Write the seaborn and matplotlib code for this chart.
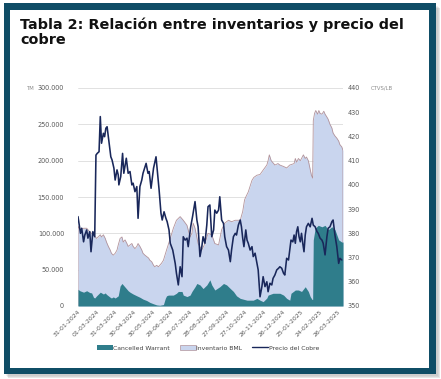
import numpy as np
import pandas as pd
import matplotlib
matplotlib.use("Agg")
import matplotlib.pyplot as plt
import seaborn as sns
from matplotlib.patches import Rectangle, Patch
from matplotlib.lines import Line2D

# ---------------- data ----------------
start_date = "2024-01-31"
tick_labels = ["31-01-2024", "01-03-2024", "31-03-2024", "30-04-2024", "30-05-2024",
               "29-06-2024", "29-07-2024", "28-08-2024", "27-09-2024", "27-10-2024",
               "26-11-2024", "26-12-2024", "25-01-2025", "24-02-2025", "26-03-2025"]
end_day = 428

# Precio del Cobre (ctvs/lb) - days since start_date
price_days = [0, 2, 4, 6, 9, 11, 14, 16, 19, 21, 24, 27, 29, 31, 34, 36, 38, 41, 43, 45,
              47, 50, 53, 55, 58, 60, 63, 65, 66, 69, 72, 74, 78, 81, 84, 87, 89, 92, 95, 97,
              100, 103, 105, 110, 113, 115, 118, 122, 126, 128, 131, 134, 136, 139, 142, 144, 147, 149,
              153, 157, 159, 162, 165, 168, 170, 173, 176, 178, 182, 185, 189, 192, 194, 197,
              200, 202, 205, 208, 210, 213, 216, 219, 221, 224, 227, 229, 232, 235, 237, 240,
              243, 246, 248, 251, 254, 256, 259, 262, 264, 266, 268, 271, 273, 275, 278, 281,
              283, 286, 289, 291, 294, 297, 299, 302, 305, 307, 310, 313, 315, 318, 321, 324,
              326, 329, 332, 334, 337, 340, 342, 344, 347, 349, 351, 353, 355, 357, 359, 361,
              363, 365, 367, 369, 372, 375, 378, 380, 383, 386, 388, 391, 394, 396, 399, 402,
              404, 407, 410, 412, 415, 418, 421, 423, 426]
price_values = [386.9, 383.4, 380.0, 382.1, 376.5, 379.3, 381.4, 378.0, 380.7, 372.4, 380.7, 378.6,
                412.3, 413.0, 413.7, 428.2, 417.2, 421.3, 419.9, 423.4, 424.0, 417.8, 411.6, 410.3,
                406.9, 402.0, 406.2, 404.1, 400.0, 403.4, 413.0, 404.8, 411.0, 404.8, 405.5, 400.0,
                400.7, 397.2, 399.3, 386.2, 399.3, 402.0, 404.8, 408.9, 404.8, 405.5, 398.6, 406.9,
                411.6, 406.2, 397.9, 388.3, 385.5, 388.9, 386.2, 384.8, 381.4, 375.9,
                373.1, 367.6, 363.5, 358.7, 366.2, 362.1, 378.6, 377.2, 378.0, 374.5, 382.7, 386.9,
                393.1, 385.5, 382.7, 370.4, 374.5, 378.6, 375.9, 383.4, 391.0, 391.7, 378.6, 381.4,
                389.6, 388.3, 389.6, 395.1, 385.5, 384.1, 378.6, 374.5, 373.1, 368.3, 373.1, 378.6,
                380.0, 379.3, 383.4, 385.5, 382.7, 378.0, 374.5, 381.4, 377.2, 375.9, 373.1, 374.5,
                370.4, 371.8, 367.6, 364.9, 353.8, 358.0, 362.1, 358.0, 360.0, 355.9, 359.4, 358.7,
                361.4, 362.8, 364.9, 365.6, 366.2, 365.6, 363.5, 362.8, 369.7, 369.0, 373.1, 377.2,
                376.5, 379.3, 375.9, 380.7, 382.7, 378.6, 376.5, 380.0, 375.9, 372.4, 379.3, 382.7,
                384.1, 382.7, 386.2, 383.4, 382.7, 380.7, 380.0, 378.0, 377.2, 375.9, 371.1, 378.6,
                382.1, 382.7, 384.8, 385.5, 379.3, 374.5, 367.6, 369.7, 369.0]

# Inventario BML (TM)
inv_days = [0, 3, 9, 14, 19, 25, 30, 36, 38, 41, 44, 46, 49, 52, 54, 57, 60, 63, 65, 68,
            71, 73, 76, 79, 81, 84, 87, 89, 92, 95, 97, 100, 103, 105, 108, 111, 114, 116, 119, 122,
            124, 127, 130, 132, 135, 138, 143, 149, 154, 159, 165, 170, 176, 181, 184, 186, 189, 194,
            200, 205, 210, 216, 221, 227, 232, 237, 243, 248, 254, 259, 262, 266, 269, 271, 275, 278,
            281, 284, 289, 294, 299, 305, 307, 309, 312, 315, 318, 323, 326, 332, 337, 342, 349, 351,
            353, 356, 359, 361, 364, 367, 369, 372, 374, 377, 379, 380, 382, 384, 387, 389, 391, 394,
            397, 399, 402, 404, 407, 410, 412, 415, 418, 421, 423, 426, 428]
inv_values = [110, 105, 107, 107, 102, 98, 93, 98, 95, 98, 93, 88, 82, 77, 72.5, 70, 72.5, 77, 84, 93,
              95, 88, 91, 86, 82, 84, 86, 82, 79, 82, 86, 82, 77, 72.5, 70, 68, 66, 63, 61, 56,
              54, 56, 54, 56, 59, 63, 77, 93, 107, 118, 123, 118, 111, 95, 100, 114, 107, 86,
              77, 86, 100, 98, 86, 84, 105, 114, 118, 116, 118, 118, 118, 130, 146, 150, 157, 165,
              173, 177, 180, 181, 187, 194, 200, 208, 200, 197, 194, 196, 194, 192, 190, 194, 196, 203,
              198, 203, 200, 203, 208, 203, 205, 200, 192, 180, 176, 255, 265, 269, 264, 269, 265, 264,
              268, 264, 260, 257, 250, 245, 238, 234, 231, 227, 222, 219, 214]
inv_values = [v * 1000 for v in inv_values]

# Cancelled Warrant (TM)
cw_days = [0, 3, 9, 14, 19, 22, 25, 27, 30, 33, 36, 38, 41, 44, 46, 49, 52, 54, 57, 60,
           65, 68, 71, 73, 76, 79, 81, 84, 89, 95, 100, 105, 111, 116, 122, 127, 132, 138, 141, 143,
           146, 154, 159, 162, 168, 170, 176, 181, 184, 189, 192, 197, 202, 208, 213, 216, 221, 229,
           235, 240, 246, 251, 256, 262, 273, 283, 289, 294, 299, 305, 307, 315, 326, 332, 337, 342,
           344, 351, 356, 361, 367, 372, 375, 378, 379, 380, 383, 388, 394, 399, 404, 410, 415, 421,
           426, 428]
cw_values = [23, 21, 19, 21, 18.5, 18, 12, 11, 14, 16.5, 19, 18, 16.5, 18, 16, 14, 12, 11, 12.5, 11,
             14, 27.5, 31, 29, 26, 23, 21, 19, 16.5, 14, 12, 9.5, 7.5, 5, 3, 1.5, 1, 2, 10.5, 14,
             15, 15, 17.5, 20, 20, 15, 13, 15, 20, 26.5, 31, 29, 24, 29, 36, 29, 22, 26.5,
             31, 29, 24, 20, 14, 10.5, 8, 8, 10.5, 8, 6, 11, 15, 17.5, 17.5, 15, 10.5, 8,
             17.5, 22, 22, 20, 26.5, 20, 13, 9, 9, 91, 107, 111, 109, 111, 105, 109, 105, 91,
             88, 88]
cw_values = [v * 1000 for v in cw_values]

# ---------------- frames ----------------
t0 = pd.Timestamp(start_date)
price_df = pd.DataFrame({"fecha": t0 + pd.to_timedelta(price_days, unit="D"), "precio": price_values})
inv_df = pd.DataFrame({"fecha": t0 + pd.to_timedelta(inv_days, unit="D"), "tm": inv_values})
cw_df = pd.DataFrame({"fecha": t0 + pd.to_timedelta(cw_days, unit="D"), "tm": cw_values})
tick_dates = [t0 + pd.Timedelta(days=30 * i) for i in range(len(tick_labels))]

# ---------------- style ----------------
sns.set_theme(style="white")
plt.rcParams["font.family"] = ["DejaVu Sans"]

W, H = 441, 379
fig = plt.figure(figsize=(W / 100, H / 100), dpi=100)
fig.patch.set_facecolor("white")

def px_rect(x0, y0, x1, y1, **kw):
    return Rectangle((x0 / W, 1 - y1 / H), (x1 - x0) / W, (y1 - y0) / H,
                     transform=fig.transFigure, **kw)

# shadow
for i, a in enumerate([0.10, 0.14, 0.18]):
    fig.patches.append(px_rect(6 + i, 6 + i, 440 - (2 - i), 378 - (2 - i), facecolor="#7a7a7a",
                               edgecolor="none", alpha=a, zorder=0))
# teal frame + white panel
fig.patches.append(px_rect(4, 3, 436, 374, facecolor="#0f4d66", edgecolor="none", zorder=1))
fig.patches.append(px_rect(10, 10, 429, 368, facecolor="white", edgecolor="none", zorder=2))

fig.text(20 / W, 1 - 17 / H, "Tabla 2: Relación entre inventarios y precio del\ncobre",
         ha="left", va="top", fontsize=10.4, fontweight="bold", color="#111111",
         linespacing=1.1, zorder=5)

ax = fig.add_axes([78 / W, 1 - 306 / H, (343 - 78) / W, (306 - 88) / H])
ax.set_zorder(3)
ax.patch.set_alpha(0)

inv_col = "#c9d5ee"
inv_edge = "#b2939b"
cw_col = "#2f7d8b"
price_col = "#19275a"

ax.fill_between(inv_df["fecha"], 0, inv_df["tm"], color=inv_col, linewidth=0, zorder=2)
edge_x = [inv_df["fecha"].iloc[0]] + list(inv_df["fecha"]) + [inv_df["fecha"].iloc[-1]]
edge_y = [0] + list(inv_df["tm"]) + [0]
ax.plot(edge_x, edge_y, color=inv_edge, lw=0.6, zorder=3)
ax.fill_between(cw_df["fecha"], 0, cw_df["tm"], color=cw_col, linewidth=0, zorder=4)

ax.set_ylim(0, 300000)
ax.set_yticks(range(0, 300001, 50000))
ax.set_yticklabels([f"{v:,}".replace(",", ".") for v in range(0, 300001, 50000)])
ax.set_xlim(t0, t0 + pd.Timedelta(days=end_day))
ax.set_xticks(tick_dates)
ax.set_xticklabels(tick_labels, rotation=45, ha="right", rotation_mode="anchor")
ax.grid(axis="y", color="#dcdcdc", lw=0.6, zorder=0)
ax.set_axisbelow(True)
ax.tick_params(axis="y", labelsize=4.7, colors="#595959", length=0, pad=10)
ax.tick_params(axis="x", labelsize=4.4, colors="#595959", length=0, pad=2)
for s in ax.spines.values():
    s.set_visible(False)
ax.set_xlabel("")
ax.set_ylabel("")

ax2 = ax.twinx()
sns.lineplot(data=price_df, x="fecha", y="precio", ax=ax2, color=price_col, lw=1.15,
             estimator=None, legend=False, zorder=5)
ax2.set_ylim(350, 440)
ax2.set_yticks(range(350, 441, 10))
ax2.tick_params(axis="y", labelsize=4.7, colors="#595959", length=0, pad=3)
ax2.set_xlim(t0, t0 + pd.Timedelta(days=end_day))
for s in ax2.spines.values():
    s.set_visible(False)
ax2.set_xlabel("")
ax2.set_ylabel("")

fig.text(27 / W, 1 - 88 / H, "TM", fontsize=3.8, color="#8c8c8c", va="center", ha="left", zorder=5)
fig.text(371 / W, 1 - 88 / H, "CTVS/LB", fontsize=3.8, color="#8c8c8c", va="center", ha="left", zorder=5)

handles = [Patch(facecolor=cw_col, edgecolor="none", label="Cancelled Warrant"),
           Patch(facecolor=inv_col, edgecolor=inv_edge, lw=0.5, label="Inventario BML"),
           Line2D([0], [0], color=price_col, lw=1.0, label="Precio del Cobre")]
leg = fig.legend(handles=handles, loc="center", bbox_to_anchor=(208 / W, 1 - 348 / H), ncol=3,
                 frameon=False, fontsize=4.4, handlelength=2.6, handleheight=0.7,
                 handletextpad=0.1, columnspacing=1.6, labelcolor="#404040")
leg.set_zorder(6)

fig.savefig("out.png", dpi=100, facecolor="white")
